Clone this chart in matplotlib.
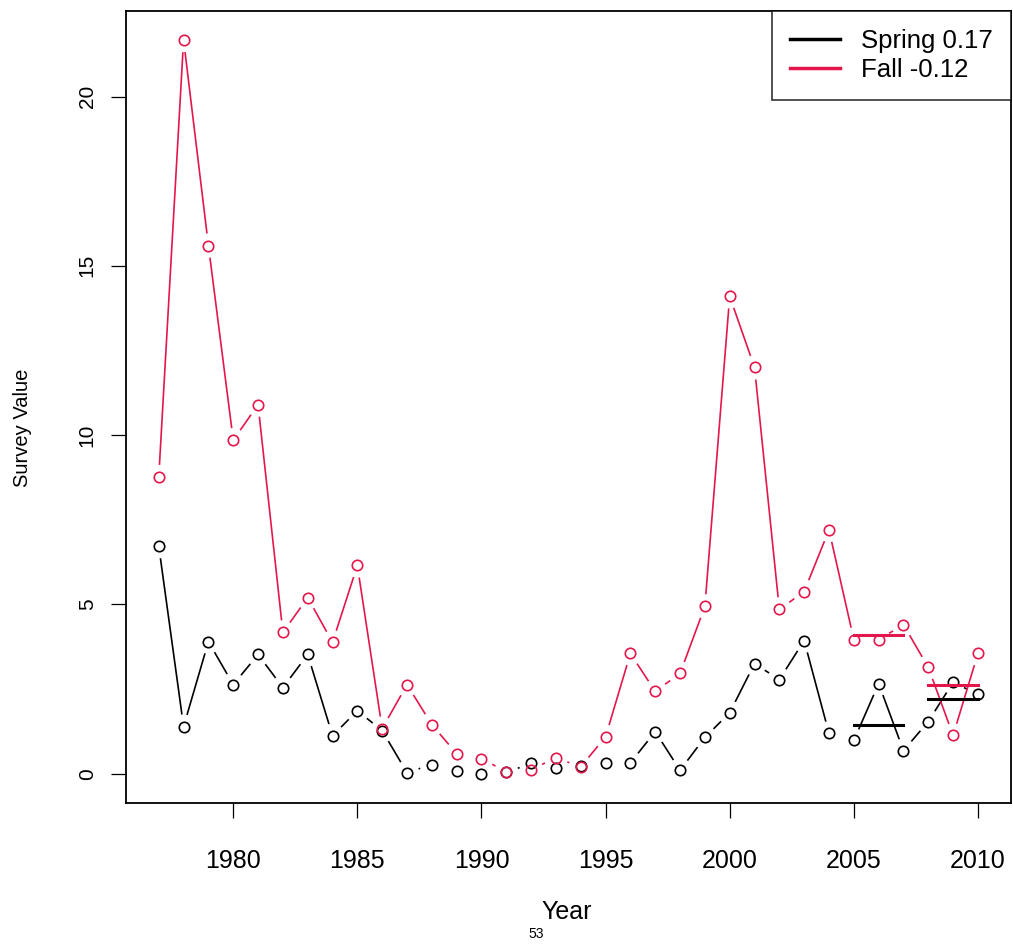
import numpy as np
import matplotlib
matplotlib.use("Agg")
import matplotlib.pyplot as plt
from matplotlib.lines import Line2D

plt.rcParams['font.family'] = ['Liberation Sans', 'DejaVu Sans']

years = list(range(1977, 2011))

spring = [6.72, 1.39, 3.90, 2.63, 3.52, 2.54, 3.52, 1.12, 1.86, 1.27,
          0.03, 0.27, 0.09, 0.00, 0.04, 0.30, 0.18, 0.23, 0.32, 0.32,
          1.24, 0.10, 1.07, 1.80, 3.25, 2.78, 3.93, 1.19, 0.98, 2.66,
          0.68, 1.54, 2.70, 2.34]

fall = [8.76, 21.67, 15.60, 9.85, 10.90, 4.17, 5.20, 3.88, 6.15, 1.33,
        2.63, 1.45, 0.59, 0.44, 0.06, 0.12, 0.47, 0.20, 1.09, 3.55,
        2.43, 2.96, 4.94, 14.10, 12.00, 4.85, 5.38, 7.20, 3.96, 3.96,
        4.40, 3.14, 1.13, 3.55]

# three year averages drawn as thick bars
mean_periods = [(2005, 2007), (2008, 2010)]

labels = ["Spring 0.17", "Fall -0.12"]
red = '#E3174C'

fig = plt.figure(figsize=(10.13, 9.44), dpi=100)
ax = fig.add_axes([126/1013, 1-803/944, (1010.7-126)/1013, (803-10.7)/944])

x = np.array(years, dtype=float)
allv = np.array(spring + fall)
xr = x.max() - x.min()
yr = allv.max() - allv.min()
ax.set_xlim(x.min() - 0.04*xr, x.max() + 0.04*xr)
ax.set_ylim(allv.min() - 0.04*yr, allv.max() + 0.04*yr)


def r_type_b(xs, ys, color, gap=13):
    # lines with gaps round the points, like R's type="b"
    pts = ax.transData.transform(np.column_stack([xs, ys]))
    inv = ax.transData.inverted()
    for i in range(len(pts)-1):
        p, q = pts[i], pts[i+1]
        d = q - p
        L = np.hypot(*d)
        if L <= 2*gap:
            continue
        u = d / L
        a = inv.transform(p + u*gap)
        b = inv.transform(q - u*gap)
        ax.plot([a[0], b[0]], [a[1], b[1]], color=color, lw=1.2)
    ax.plot(xs, ys, 'o', mfc='none', mec=color, ms=7.5, mew=1.2)


r_type_b(x, np.array(spring), 'black')
r_type_b(x, np.array(fall), red)

for a, b in mean_periods:
    sel = (x >= a) & (x <= b)
    ax.plot([a, b], [np.mean(np.array(spring)[sel])]*2, color='black', lw=2.2)
    ax.plot([a, b], [np.mean(np.array(fall)[sel])]*2, color=red, lw=2.2)

ax.set_xticks([1980, 1985, 1990, 1995, 2000, 2005, 2010])
ax.set_yticks([0, 5, 10, 15, 20])
ax.tick_params(axis='x', length=11, width=0.9, labelsize=18, pad=22)
ax.tick_params(axis='y', length=11, width=0.9, labelsize=15, pad=10)
for t in ax.get_yticklabels():
    t.set_rotation(90)
    t.set_va('center')
for s in ax.spines.values():
    s.set_linewidth(1.3)

fig.text(22/1013, 1-428/944, "Survey Value", rotation=90, ha='center', va='center', fontsize=14.5)
fig.text(567/1013, 1-912/944, "Year", ha='center', va='center', fontsize=18)
fig.text(536/1013, 1-934/944, "53", ha='center', va='center', fontsize=10)

handles = [Line2D([], [], color='black', lw=2.5), Line2D([], [], color=red, lw=2.5)]
leg = ax.legend(handles, labels, loc='upper right', fontsize=18.5, frameon=True,
                fancybox=False, borderaxespad=0, handlelength=1.95,
                borderpad=0.7, labelspacing=0.2, handletextpad=0.8)
leg.get_frame().set_edgecolor('black')
leg.get_frame().set_linewidth(1.2)

fig.savefig("out.png", dpi=100)
